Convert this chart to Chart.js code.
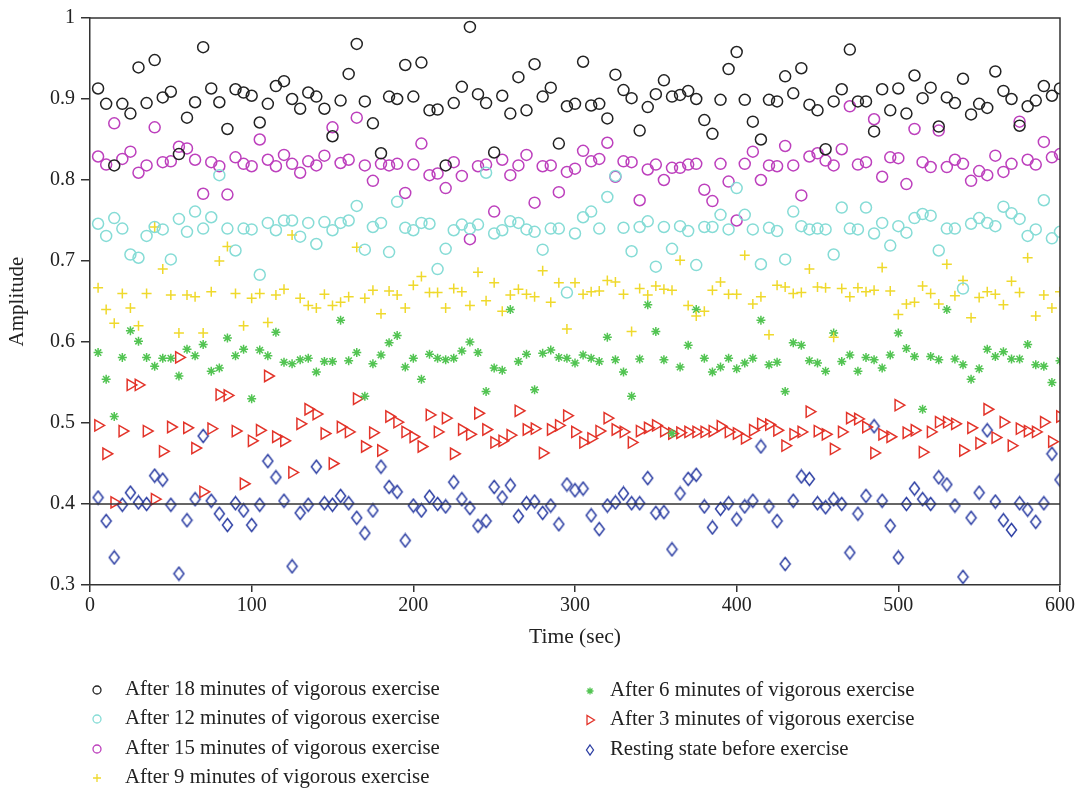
<!DOCTYPE html>
<html>
<head>
<meta charset="utf-8">
<script src="https://cdn.jsdelivr.net/npm/chart.js@4.4.1/dist/chart.umd.min.js"></script>
<style>
  html, body { margin: 0; padding: 0; background: #fff; }
  #wrap { width: 1079px; height: 792px; }
</style>
</head>
<body>
<div id="wrap"><canvas id="chart" width="1079" height="792"></canvas></div>
<script>
// sample times (sec)
const times = [5, 10, 15, 20, 25, 30, 35, 40, 45, 50, 55, 60, 65, 70, 75, 80, 85, 90, 95, 100,
  105, 110, 115, 120, 125, 130, 135, 140, 145, 150, 155, 160, 165, 170, 175, 180, 185, 190, 195, 200,
  205, 210, 215, 220, 225, 230, 235, 240, 245, 250, 255, 260, 265, 270, 275, 280, 285, 290, 295, 300,
  305, 310, 315, 320, 325, 330, 335, 340, 345, 350, 355, 360, 365, 370, 375, 380, 385, 390, 395, 400,
  405, 410, 415, 420, 425, 430, 435, 440, 445, 450, 455, 460, 465, 470, 475, 480, 485, 490, 495, 500,
  505, 510, 515, 520, 525, 530, 535, 540, 545, 550, 555, 560, 565, 570, 575, 580, 585, 590, 595, 600];

const after18 = [0.913, 0.894, 0.818, 0.894, 0.882, 0.939, 0.895, 0.948, 0.902, 0.909, 0.832, 0.877, 0.896, 0.964, 0.913, 0.896, 0.863, 0.912, 0.908, 0.904, 0.871, 0.894, 0.916, 0.922,
  0.900, 0.888, 0.908, 0.903, 0.888, 0.854, 0.898, 0.931, 0.968, 0.897, 0.870, 0.833, 0.903, 0.900, 0.942, 0.903, 0.945, 0.886, 0.887, 0.818, 0.895, 0.915, 0.989, 0.906,
  0.895, 0.834, 0.904, 0.882, 0.927, 0.886, 0.943, 0.903, 0.914, 0.845, 0.891, 0.894, 0.946, 0.892, 0.894, 0.876, 0.930, 0.911, 0.901, 0.861, 0.890, 0.906, 0.923,
  0.903, 0.905, 0.910, 0.900, 0.874, 0.857, 0.899, 0.937, 0.958, 0.899, 0.872, 0.850, 0.899, 0.897, 0.928, 0.907, 0.938, 0.893, 0.886, 0.838, 0.897, 0.912, 0.961, 0.897,
  0.897, 0.860, 0.912, 0.886, 0.913, 0.882, 0.929, 0.901, 0.914, 0.866, 0.902, 0.895, 0.925, 0.881, 0.894, 0.889, 0.934, 0.910, 0.900, 0.867, 0.891, 0.898, 0.916, 0.904, 0.913];

const after15 = [0.829, 0.819, 0.870, 0.826, 0.835, 0.809, 0.818, 0.865, 0.822, 0.823, 0.841, 0.839, 0.825, 0.783, 0.822, 0.817, 0.782, 0.828, 0.820, 0.817, 0.850, 0.825, 0.817, 0.831,
  0.820, 0.809, 0.823, 0.818, 0.830, 0.865, 0.821, 0.825, 0.877, 0.818, 0.799, 0.820, 0.818, 0.820, 0.784, 0.819, 0.845, 0.806, 0.808, 0.790, 0.822, 0.805, 0.727, 0.817,
  0.819, 0.761, 0.825, 0.806, 0.818, 0.831, 0.772, 0.817, 0.818, 0.785, 0.810, 0.814, 0.836, 0.823, 0.826, 0.846, 0.804, 0.823, 0.822, 0.775, 0.813, 0.819, 0.800,
  0.815, 0.815, 0.819, 0.820, 0.788, 0.774, 0.820, 0.798, 0.750, 0.820, 0.835, 0.800, 0.818, 0.817, 0.842, 0.818, 0.781, 0.829, 0.833, 0.824, 0.818, 0.838, 0.891, 0.819,
  0.822, 0.875, 0.804, 0.828, 0.827, 0.795, 0.863, 0.822, 0.816, 0.861, 0.816, 0.825, 0.820, 0.799, 0.811, 0.806, 0.830, 0.810, 0.820, 0.872, 0.825, 0.819, 0.847, 0.828, 0.832];

const after12 = [0.746, 0.731, 0.753, 0.740, 0.708, 0.704, 0.731, 0.742, 0.739, 0.702, 0.752, 0.736, 0.761, 0.740, 0.754, 0.806, 0.740, 0.713, 0.740, 0.739, 0.683, 0.747, 0.738, 0.750,
  0.750, 0.730, 0.747, 0.721, 0.748, 0.738, 0.747, 0.750, 0.768, 0.714, 0.742, 0.747, 0.711, 0.773, 0.741, 0.738, 0.747, 0.746, 0.690, 0.715, 0.738, 0.745, 0.740, 0.745,
  0.809, 0.734, 0.738, 0.749, 0.747, 0.739, 0.736, 0.714, 0.740, 0.740, 0.661, 0.734, 0.754, 0.761, 0.740, 0.779, 0.805, 0.741, 0.712, 0.742, 0.749, 0.693, 0.742,
  0.715, 0.743, 0.737, 0.695, 0.742, 0.742, 0.757, 0.739, 0.790, 0.757, 0.739, 0.696, 0.741, 0.737, 0.702, 0.761, 0.743, 0.739, 0.740, 0.739, 0.708, 0.766, 0.740, 0.739,
  0.766, 0.734, 0.747, 0.719, 0.743, 0.735, 0.753, 0.758, 0.756, 0.713, 0.740, 0.740, 0.666, 0.746, 0.753, 0.747, 0.743, 0.767, 0.759, 0.752, 0.731, 0.739, 0.775, 0.728, 0.736];

const after9 = [0.667, 0.640, 0.623, 0.660, 0.642, 0.620, 0.660, 0.742, 0.690, 0.658, 0.611, 0.658, 0.656, 0.611, 0.662, 0.700, 0.718, 0.660, 0.620, 0.654, 0.660, 0.624, 0.658, 0.665,
  0.732, 0.654, 0.645, 0.642, 0.659, 0.645, 0.649, 0.656, 0.717, 0.654, 0.664, 0.635, 0.663, 0.658, 0.642, 0.670, 0.681, 0.661, 0.661, 0.642, 0.666, 0.662, 0.645, 0.686,
  0.651, 0.673, 0.638, 0.658, 0.665, 0.659, 0.656, 0.688, 0.649, 0.673, 0.616, 0.673, 0.659, 0.662, 0.663, 0.676, 0.674, 0.659, 0.613, 0.666, 0.658, 0.669, 0.665,
  0.664, 0.701, 0.645, 0.632, 0.638, 0.664, 0.674, 0.659, 0.659, 0.707, 0.647, 0.656, 0.609, 0.670, 0.668, 0.660, 0.661, 0.690, 0.668, 0.667, 0.606, 0.666, 0.656, 0.667,
  0.662, 0.664, 0.692, 0.663, 0.634, 0.647, 0.649, 0.669, 0.660, 0.647, 0.696, 0.657, 0.676, 0.630, 0.655, 0.662, 0.659, 0.646, 0.675, 0.661, 0.704, 0.632, 0.658, 0.642, 0.662];

const after6 = [0.587, 0.554, 0.508, 0.581, 0.614, 0.601, 0.581, 0.570, 0.580, 0.580, 0.558, 0.591, 0.583, 0.597, 0.564, 0.568, 0.605, 0.583, 0.591, 0.530, 0.590, 0.583, 0.612, 0.575,
  0.573, 0.578, 0.580, 0.563, 0.576, 0.576, 0.627, 0.577, 0.587, 0.533, 0.573, 0.584, 0.599, 0.608, 0.569, 0.580, 0.554, 0.585, 0.580, 0.578, 0.580, 0.589, 0.600, 0.587,
  0.539, 0.568, 0.565, 0.640, 0.576, 0.585, 0.541, 0.586, 0.590, 0.581, 0.580, 0.574, 0.584, 0.580, 0.576, 0.606, 0.578, 0.563, 0.533, 0.579, 0.646, 0.613, 0.578,
  0.487, 0.569, 0.596, 0.640, 0.580, 0.563, 0.569, 0.580, 0.567, 0.574, 0.580, 0.627, 0.572, 0.575, 0.539, 0.599, 0.596, 0.577, 0.574, 0.564, 0.611, 0.576, 0.584, 0.564,
  0.581, 0.578, 0.568, 0.584, 0.611, 0.592, 0.582, 0.517, 0.582, 0.578, 0.640, 0.579, 0.572, 0.554, 0.567, 0.591, 0.582, 0.588, 0.579, 0.579, 0.597, 0.572, 0.570, 0.550, 0.577];

const after3 = [0.497, 0.462, 0.402, 0.490, 0.547, 0.547, 0.490, 0.406, 0.465, 0.495, 0.581, 0.494, 0.469, 0.415, 0.493, 0.535, 0.534, 0.490, 0.425, 0.478, 0.491, 0.558, 0.483, 0.478,
  0.439, 0.499, 0.517, 0.511, 0.487, 0.450, 0.495, 0.489, 0.530, 0.471, 0.488, 0.466, 0.508, 0.501, 0.489, 0.483, 0.471, 0.510, 0.489, 0.506, 0.462, 0.492, 0.486, 0.512,
  0.492, 0.476, 0.478, 0.485, 0.515, 0.492, 0.493, 0.463, 0.492, 0.497, 0.509, 0.489, 0.476, 0.481, 0.490, 0.506, 0.492, 0.489, 0.476, 0.490, 0.494, 0.497, 0.490,
  0.487, 0.488, 0.489, 0.489, 0.489, 0.490, 0.496, 0.489, 0.487, 0.481, 0.491, 0.499, 0.498, 0.491, 0.472, 0.486, 0.489, 0.514, 0.490, 0.486, 0.468, 0.489, 0.506, 0.505,
  0.495, 0.463, 0.486, 0.483, 0.522, 0.488, 0.491, 0.464, 0.489, 0.501, 0.501, 0.499, 0.466, 0.494, 0.475, 0.517, 0.482, 0.501, 0.472, 0.493, 0.490, 0.489, 0.501, 0.477, 0.508];

const resting = [0.408, 0.379, 0.334, 0.399, 0.414, 0.402, 0.400, 0.435, 0.430, 0.399, 0.314, 0.380, 0.406, 0.484, 0.404, 0.388, 0.374, 0.401, 0.392, 0.374, 0.399, 0.453, 0.433, 0.404,
  0.323, 0.389, 0.399, 0.446, 0.401, 0.399, 0.410, 0.401, 0.383, 0.364, 0.392, 0.446, 0.421, 0.415, 0.355, 0.398, 0.392, 0.409, 0.400, 0.397, 0.427, 0.406, 0.395, 0.373,
  0.379, 0.421, 0.408, 0.423, 0.385, 0.401, 0.403, 0.389, 0.398, 0.375, 0.424, 0.417, 0.419, 0.386, 0.369, 0.398, 0.402, 0.413, 0.401, 0.401, 0.432, 0.389, 0.390,
  0.344, 0.413, 0.431, 0.436, 0.397, 0.371, 0.394, 0.401, 0.381, 0.397, 0.404, 0.471, 0.397, 0.379, 0.326, 0.404, 0.434, 0.431, 0.401, 0.396, 0.406, 0.400, 0.340, 0.388,
  0.410, 0.496, 0.404, 0.373, 0.334, 0.400, 0.419, 0.406, 0.400, 0.433, 0.424, 0.398, 0.310, 0.383, 0.414, 0.491, 0.403, 0.380, 0.368, 0.401, 0.393, 0.378, 0.401, 0.462, 0.430];

const yTicks = [0.3, 0.4, 0.5, 0.6, 0.7, 0.8, 0.9, 1];
const xTicks = [0, 100, 200, 300, 400, 500, 600];
const refLevel = 0.4;

const FONT = '"Liberation Serif", "Times New Roman", serif';
const INK = '#222';

// narrow diamond marker for the resting series
function makeDiamond(w, h, color) {
    const c = document.createElement('canvas');
    c.width = w + 3; c.height = h + 3;
    const g = c.getContext('2d');
    g.strokeStyle = color;
    g.lineWidth = 1.5;
    g.beginPath();
    g.moveTo(c.width / 2, 1.5);
    g.lineTo(c.width - 1.5, c.height / 2);
    g.lineTo(c.width / 2, c.height - 1.5);
    g.lineTo(1.5, c.height / 2);
    g.closePath();
    g.stroke();
    return c;
}

const series = [
    { label: 'After 18 minutes of vigorous exercise', data: after18, color: '#222222', style: 'circle', r: 5.5 },
    { label: 'After 12 minutes of vigorous exercise', data: after12, color: '#86dcd6', style: 'circle', r: 5.5 },
    { label: 'After 15 minutes of vigorous exercise', data: after15, color: '#bd40bd', style: 'circle', r: 5.5 },
    { label: 'After 9 minutes of vigorous exercise', data: after9, color: '#efd92c', style: 'cross', r: 5 },
    { label: 'After 6 minutes of vigorous exercise', data: after6, color: '#52c452', style: 'star', r: 4.5 },
    { label: 'After 3 minutes of vigorous exercise', data: after3, color: '#e3342a', style: 'triangle', r: 6.5, rot: 90 },
    { label: 'Resting state before exercise', data: resting, color: '#2e40a4', style: 'diamond', r: 6 }
];

const datasets = series.map(s => ({
    label: s.label,
    data: times.map((t, i) => ({ x: t, y: s.data[i] })),
    showLine: false,
    pointStyle: s.style === 'diamond' ? makeDiamond(10, 13, s.color) : s.style,
    pointRadius: s.r,
    pointRotation: s.rot || 0,
    pointBorderColor: s.color,
    pointBackgroundColor: 'rgba(0,0,0,0)',
    pointBorderWidth: 1.5
}));

function drawMarker(ctx, s, x, y) {
    ctx.save();
    ctx.strokeStyle = s.color;
    ctx.lineWidth = 1.3;
    ctx.beginPath();
    if (s.style === 'circle') {
        ctx.arc(x, y, 4, 0, Math.PI * 2);
    } else if (s.style === 'cross') {
        ctx.moveTo(x - 4, y); ctx.lineTo(x + 4, y);
        ctx.moveTo(x, y - 4); ctx.lineTo(x, y + 4);
    } else if (s.style === 'star') {
        for (let k = 0; k < 4; k++) {
            const a = k * Math.PI / 4;
            ctx.moveTo(x - 3.5 * Math.cos(a), y - 3.5 * Math.sin(a));
            ctx.lineTo(x + 3.5 * Math.cos(a), y + 3.5 * Math.sin(a));
        }
    } else if (s.style === 'triangle') {
        ctx.moveTo(x + 4.5, y);
        ctx.lineTo(x - 3, y - 4.5);
        ctx.lineTo(x - 3, y + 4.5);
        ctx.closePath();
    } else {
        ctx.moveTo(x, y - 5);
        ctx.lineTo(x + 3.5, y);
        ctx.lineTo(x, y + 5);
        ctx.lineTo(x - 3.5, y);
        ctx.closePath();
    }
    ctx.stroke();
    ctx.restore();
}

const framePlugin = {
    id: 'frame',
    afterDatasetsDraw(chart) {
        const { ctx, chartArea: a, scales } = chart;
        const yRef = scales.y.getPixelForValue(refLevel);
        ctx.save();
        ctx.strokeStyle = '#333';
        ctx.lineWidth = 1.5;
        ctx.beginPath();
        ctx.moveTo(a.left, yRef);
        ctx.lineTo(a.right, yRef);
        ctx.stroke();
        ctx.beginPath();
        ctx.moveTo(a.left, a.top);
        ctx.lineTo(a.right, a.top);
        ctx.lineTo(a.right, a.bottom);
        ctx.stroke();
        ctx.restore();
    },
    afterDraw(chart) {
        // legend in two columns, column-major like the original
        const ctx = chart.ctx;
        const cols = [{ mx: 97, tx: 125 }, { mx: 590, tx: 610 }];
        const rows = [690, 719, 749, 778];
        ctx.save();
        ctx.font = '20.8px ' + FONT;
        ctx.fillStyle = INK;
        ctx.textBaseline = 'middle';
        series.forEach((s, i) => {
            const c = cols[i < 4 ? 0 : 1];
            const y = rows[i < 4 ? i : i - 4] + (i < 4 ? 0 : 1);
            drawMarker(ctx, s, c.mx, y);
            ctx.fillText(s.label, c.tx, y);
        });
        ctx.restore();
    }
};

new Chart(document.getElementById('chart'), {
    type: 'scatter',
    data: { datasets },
    options: {
        responsive: false,
        animation: false,
        layout: { padding: { left: 0, right: 19, top: 16, bottom: 142 } },
        plugins: { legend: { display: false }, tooltip: { enabled: false } },
        scales: {
            x: {
                type: 'linear',
                min: xTicks[0],
                max: xTicks[xTicks.length - 1],
                afterBuildTicks: s => { s.ticks = xTicks.map(v => ({ value: v })); },
                afterFit: s => { s.height = 65; },
                ticks: { color: INK, font: { family: FONT, size: 20 }, padding: 2 },
                grid: { drawOnChartArea: false, drawTicks: true, tickLength: 7, color: '#333', lineWidth: 1.5 },
                border: { color: '#333', width: 1.5 },
                title: { display: true, text: 'Time (sec)', color: INK, font: { family: FONT, size: 21.5 }, padding: { top: 0, bottom: 0 } }
            },
            y: {
                type: 'linear',
                min: yTicks[0],
                max: yTicks[yTicks.length - 1],
                afterBuildTicks: s => { s.ticks = yTicks.map(v => ({ value: v })); },
                afterFit: s => { s.width = 90; },
                ticks: { color: INK, font: { family: FONT, size: 20 }, padding: 6, callback: v => String(Math.round(v * 10) / 10) },
                grid: { drawOnChartArea: false, drawTicks: true, tickLength: 9, color: '#333', lineWidth: 1.5 },
                border: { color: '#333', width: 1.5 },
                title: { display: true, text: 'Amplitude', color: INK, font: { family: FONT, size: 21 }, padding: { top: 5, bottom: 0 } }
            }
        }
    },
    plugins: [framePlugin]
});
</script>
</body>
</html>
